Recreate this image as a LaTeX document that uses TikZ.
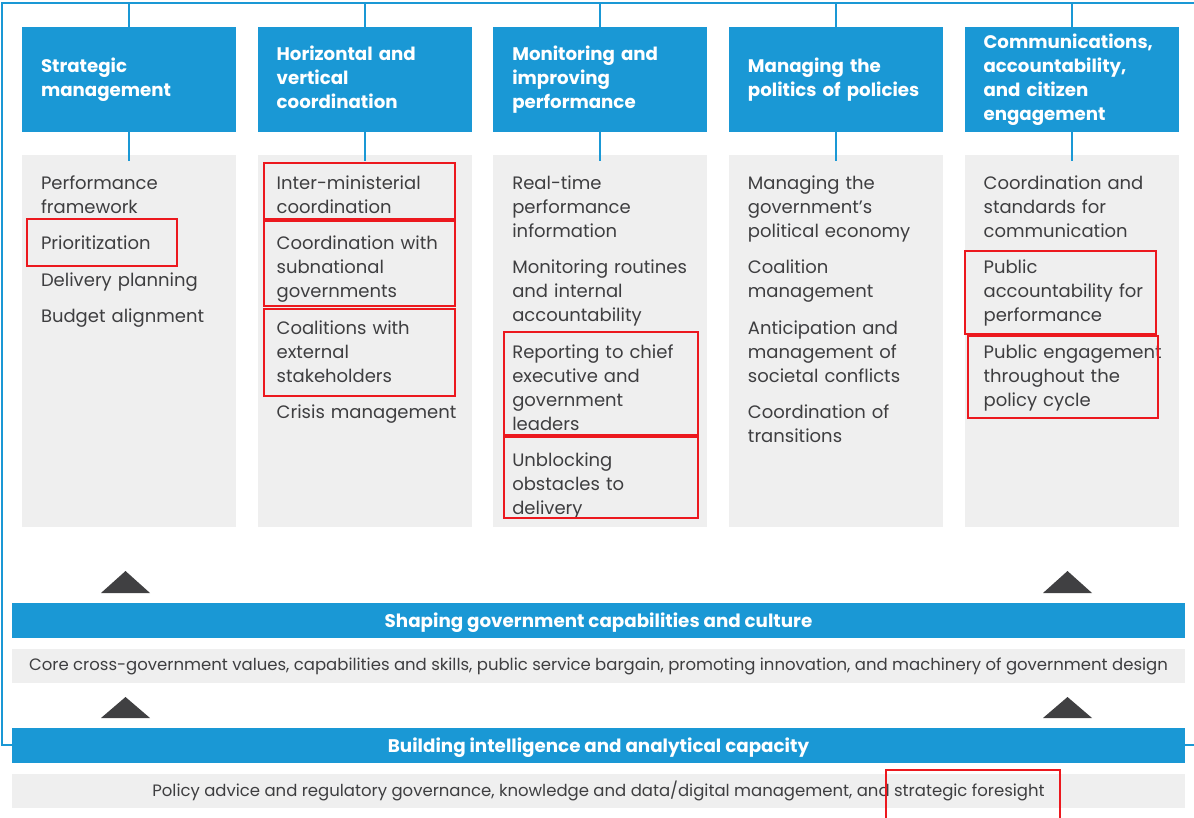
\documentclass[tikz,border=0pt]{standalone}
\usepackage{fontspec}
\setmainfont{Poppins}
\usepackage{tikz}
\usetikzlibrary{positioning}

\definecolor{ocblue}{RGB}{26,152,213}
\definecolor{boxgrey}{RGB}{239,239,239}
\definecolor{txtgrey}{RGB}{62,62,64}
\definecolor{tridark}{RGB}{64,64,66}
\definecolor{markred}{RGB}{236,24,30}

\begin{document}
\begin{tikzpicture}[x=1pt, y=-1pt, node distance=21.25pt,
    hdr/.style={fill=ocblue, text=white, minimum width=214pt, minimum height=105pt,
      text width=176pt, align=left, inner sep=0pt,
      font=\fontsize{18.2}{24}\selectfont\bfseries,
      execute at begin node=\strut, execute at end node=\strut},
    cbox/.style={fill=boxgrey, minimum width=214pt, minimum height=372pt, inner sep=0pt},
    item/.style={text=txtgrey, text width=200pt, align=left, inner sep=0pt, anchor=north west,
      font=\fontsize{18}{24}\selectfont,
      execute at begin node=\strut, execute at end node=\strut},
    bar/.style={fill=ocblue, text=white, minimum width=1173pt, minimum height=35pt,
      inner sep=0pt, text depth=0pt, font=\fontsize{18.3}{22}\selectfont\bfseries},
    row/.style={fill=boxgrey, text=txtgrey, minimum width=1173pt, minimum height=34pt,
      inner sep=0pt, font=\fontsize{16.5}{20}\selectfont},
    link/.style={draw=ocblue, line width=2pt},
    hilite/.style={draw=markred, line width=1.6pt}]
   \useasboundingbox (0,0) rectangle (1194,817);

   % Outer frame
   \draw[ocblue, line width=1.5pt] (2,3) rectangle (1210,745);
   \coordinate (top) at (0,3);

   % Column headers
   \node[hdr] (h1) at (129,79.5) {Strategic\\management};
   \node[hdr] (h2) [right=of h1] {Horizontal and\\vertical\\coordination};
   \node[hdr] (h3) [right=of h2] {Monitoring and\\improving\\performance};
   \node[hdr] (h4) [right=of h3] {Managing the\\politics of policies};
   \node[hdr] (h5) [right=of h4] {Communications,\\accountability,\\and citizen\\engagement};

   % Column bodies
   \foreach \i in {1,...,5} {
     \node[cbox] (c\i) [below=23pt of h\i] {};
     \draw[link] (top -| h\i.north) -- (h\i.north);
     \draw[link] (h\i.south) -- ([yshift=-6pt]c\i.north);
   }

   % Strategic management
   \node[item] (a1) at ([xshift=19pt,yshift=-17pt]c1.north west) {Performance\\framework};
   \node[item] (a2) [below right=12pt and 0pt of a1.south west] {Prioritization};
   \node[item] (a3) [below right=12pt and 0pt of a2.south west] {Delivery planning};
   \node[item] (a4) [below right=12pt and 0pt of a3.south west] {Budget alignment};

   % Horizontal and vertical coordination
   \node[item] (b1) at ([xshift=19pt,yshift=-17pt]c2.north west) {Inter-ministerial\\coordination};
   \node[item] (b2) [below right=12pt and 0pt of b1.south west] {Coordination with\\subnational\\governments};
   \node[item] (b3) [below right=12pt and 0pt of b2.south west] {Coalitions with\\external\\stakeholders};
   \node[item] (b4) [below right=12pt and 0pt of b3.south west] {Crisis management};

   % Monitoring and improving performance
   \node[item] (m1) at ([xshift=19pt,yshift=-17pt]c3.north west) {Real-time\\performance\\information};
   \node[item] (m2) [below right=12pt and 0pt of m1.south west] {Monitoring routines\\and internal\\accountability};
   \node[item] (m3) [below right=12pt and 0pt of m2.south west] {Reporting to chief\\executive and\\government\\leaders};
   \node[item] (m4) [below right=12pt and 0pt of m3.south west] {Unblocking\\obstacles to\\delivery};

   % Managing the politics of policies
   \node[item] (p1) at ([xshift=19pt,yshift=-17pt]c4.north west) {Managing the\\government's\\political economy};
   \node[item] (p2) [below right=12pt and 0pt of p1.south west] {Coalition\\management};
   \node[item] (p3) [below right=12pt and 0pt of p2.south west] {Anticipation and\\management of\\societal conflicts};
   \node[item] (p4) [below right=12pt and 0pt of p3.south west] {Coordination of\\transitions};

   % Communications, accountability, and citizen engagement
   \node[item] (e1) at ([xshift=19pt,yshift=-17pt]c5.north west) {Coordination and\\standards for\\communication};
   \node[item] (e2) [below right=12pt and 0pt of e1.south west] {Public\\accountability for\\performance};
   \node[item] (e3) [below right=12pt and 0pt of e2.south west] {Public engagement\\throughout the\\policy cycle};

   % Foundation bars
   \node[bar] (s1) at (598.5,620.5) {Shaping government capabilities and culture};
   \node[row] (r1) [below=11pt of s1]
     {Core cross-government values, capabilities and skills, public service bargain, promoting innovation, and machinery of government design};
   \node[bar] (s2) [below=44pt of r1] {Building intelligence and analytical capacity};
   \node[row] (r2) [below=11pt of s2]
     {Policy advice and regulatory governance, knowledge and data/digital management, and strategic foresight};

   % Upward arrows
   \foreach \x in {125.5,1067.5} {
     \fill[tridark] (\x-24.5,593) -- (\x+24.5,593) -- (\x,571) -- cycle;
     \fill[tridark] (\x-24.5,718) -- (\x+24.5,718) -- (\x,697) -- cycle;
   }

   % Highlights
   \foreach \xa/\ya/\xb/\yb in {27/219/177/266, 264/163/455/219, 264/221/455/306,
       264/309/455/396, 504/332/698/435, 504/437/698/518, 965/251/1156/334,
       968/336/1158/418, 886/770/1060/830}
     \draw[hilite] (\xa,\ya) rectangle (\xb,\yb);
\end{tikzpicture}
\end{document}
